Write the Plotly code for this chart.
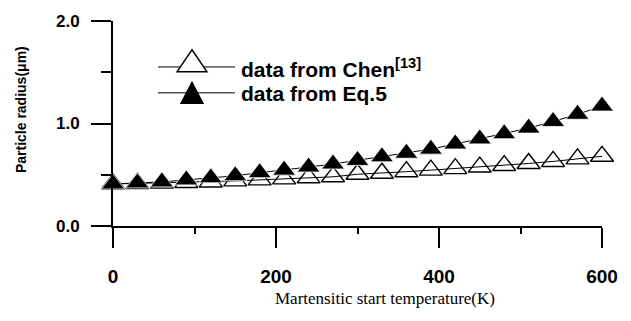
import plotly.graph_objects as go

# Martensitic start temperature (K)
temperature = [0, 30, 60, 90, 120, 150, 180, 210, 240, 270, 300,
               330, 360, 390, 420, 450, 480, 510, 540, 570, 600]

# Particle radius (um) reported by Chen [13]
radius_chen = [0.41, 0.415, 0.42, 0.425, 0.43, 0.44, 0.45, 0.46, 0.47, 0.48, 0.505,
               0.515, 0.53, 0.545, 0.56, 0.575, 0.59, 0.61, 0.63, 0.655, 0.68]

# Particle radius (um) computed from Eq.5
radius_eq5 = [0.41, 0.42, 0.43, 0.45, 0.47, 0.49, 0.52, 0.545, 0.575, 0.605, 0.64,
              0.675, 0.71, 0.75, 0.80, 0.85, 0.90, 0.955, 1.02, 1.09, 1.17]

x_major = [0, 200, 400, 600]
x_minor = [100, 300, 500]
y_major = [0, 1, 2]
y_minor = [0.5, 1.5]
y_ticktext = ["0.0", "1.0", "2.0"]

SANS = "Liberation Sans, Arial, sans-serif"
SERIF = "Liberation Serif, Times New Roman, serif"

W, H = 631, 321
L, R, T, B = 113, 29, 12, 95
PW, PH = W - L - R, H - T - B


def px(x):
    return (x - L) / PW


def py(y):
    return (H - B - y) / PH


fig = go.Figure()
fig.add_trace(go.Scatter(
    x=temperature, y=radius_chen, name="data from Chen[13]",
    mode="lines+markers", cliponaxis=False,
    line=dict(color="black", width=1),
    marker=dict(symbol="triangle-up-open", size=20, color="black",
                line=dict(color="black", width=1.4)),
    showlegend=False,
))
fig.add_trace(go.Scatter(
    x=temperature, y=radius_eq5, name="data from Eq.5",
    mode="lines+markers", cliponaxis=False,
    line=dict(color="black", width=1),
    marker=dict(symbol="triangle-up", size=20, color="black",
                line=dict(color="white", width=0.8)),
    showlegend=False,
))

# hand-placed key in the upper-left corner
shapes = []
annotations = []
key_rows = [
    # (line y, apex y, base y, half width, filled, label, text y)
    (60, 42, 65, 15, False, "data from Chen<sup>[13]</sup>", 61),
    (87, 76, 98, 11, True, "data from Eq.5", 88),
]
for ly, ay, by, hw, filled, label, ty in key_rows:
    shapes.append(dict(type="line", xref="paper", yref="paper",
                       x0=px(158), x1=px(235), y0=py(ly), y1=py(ly),
                       line=dict(color="black", width=1)))
    cx = 192
    path = (f"M {px(cx)},{py(ay)} L {px(cx + hw)},{py(by)} "
            f"L {px(cx - hw)},{py(by)} Z")
    shapes.append(dict(type="path", xref="paper", yref="paper", path=path,
                       fillcolor="black" if filled else "white",
                       line=dict(color="black", width=1.4)))
    annotations.append(dict(text=f"<b>{label}</b>", xref="paper", yref="paper",
                            x=px(239), y=py(ty), xanchor="left", yanchor="middle",
                            showarrow=False,
                            font=dict(family=SANS, size=21, color="black")))

# axis titles
annotations.append(dict(text="Martensitic start temperature(K)",
                        xref="paper", yref="paper", x=px(385), y=py(302),
                        xanchor="center", yanchor="middle", showarrow=False,
                        font=dict(family=SERIF, size=17, color="black")))
annotations.append(dict(text="<b>Particle radius(μm)</b>",
                        xref="paper", yref="paper", x=px(21), y=py(105),
                        xanchor="center", yanchor="middle", showarrow=False,
                        textangle=-90,
                        font=dict(family=SANS, size=14, color="black")))

fig.update_layout(
    width=W, height=H,
    margin=dict(l=L, r=R, t=T, b=B),
    paper_bgcolor="white", plot_bgcolor="white",
    shapes=shapes, annotations=annotations,
    showlegend=False,
)
fig.update_xaxes(
    range=[0, 600], showgrid=False, zeroline=False,
    showline=True, linecolor="black", linewidth=2,
    tickmode="array", tickvals=x_major, ticktext=[f"<b>{v}</b>" for v in x_major],
    ticks="outside", ticklen=20, tickwidth=2, tickcolor="black",
    minor=dict(tickmode="array", tickvals=x_minor, ticks="outside",
               ticklen=6, tickwidth=2, tickcolor="black"),
    tickfont=dict(family=SANS, size=19, color="black"),
    ticklabelstandoff=12,
)
fig.update_yaxes(
    range=[0, 2], showgrid=False, zeroline=False,
    showline=True, linecolor="black", linewidth=2,
    tickmode="array", tickvals=y_major, ticktext=[f"<b>{t}</b>" for t in y_ticktext],
    ticks="outside", ticklen=20, tickwidth=1.5, tickcolor="black",
    minor=dict(tickmode="array", tickvals=y_minor, ticks="outside",
               ticklen=10, tickwidth=1.5, tickcolor="black"),
    tickfont=dict(family=SANS, size=17, color="black"),
    ticklabelstandoff=8,
)

fig.write_html("out.html")
